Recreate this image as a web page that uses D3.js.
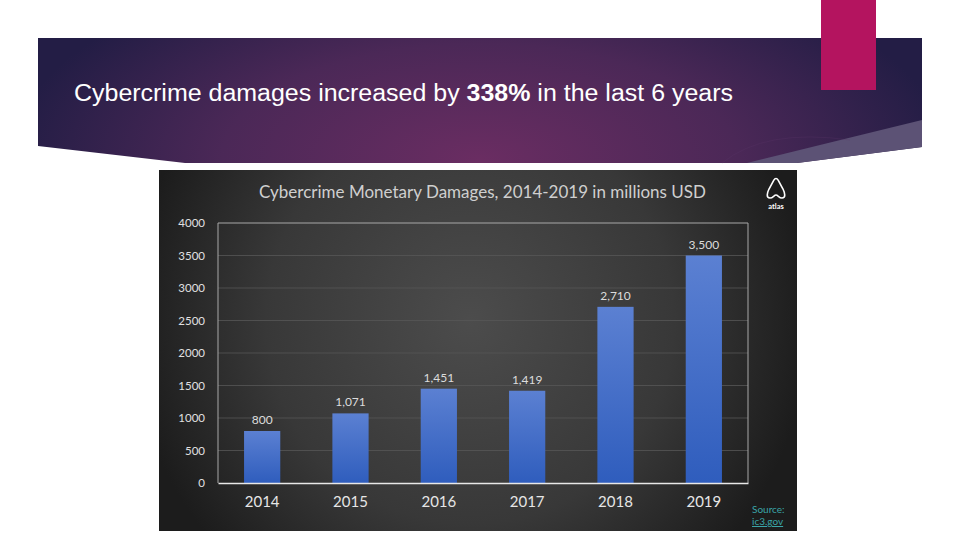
<!DOCTYPE html>
<html><head><meta charset="utf-8">
<script src="https://cdn.jsdelivr.net/npm/d3@7"></script>
<style>html,body{margin:0;padding:0;background:#fff;overflow:hidden}</style>
</head><body>
<svg id="c" width="960" height="540"></svg>
<script>
const years = ["2014","2015","2016","2017","2018","2019"];
const damages = [800, 1071, 1451, 1419, 2710, 3500];
const valueLabels = ["800","1,071","1,451","1,419","2,710","3,500"];
const yTicks = [0,500,1000,1500,2000,2500,3000,3500,4000];

const svg = d3.select("#c");
const defs = svg.append("defs");

// banner gradient
const bg = defs.append("radialGradient").attr("id","ban").attr("gradientUnits","userSpaceOnUse")
  .attr("cx",480).attr("cy",160).attr("r",470).attr("gradientTransform","translate(480,160) scale(1,0.45) translate(-480,-160)");
bg.append("stop").attr("offset","0").attr("stop-color","#6a2d62");
bg.append("stop").attr("offset","0.55").attr("stop-color","#4b2857");
bg.append("stop").attr("offset","1").attr("stop-color","#231d45");

svg.append("path").attr("d","M38,38 L922,38 L922,147 L797,163 L185,163 L38,146 Z").attr("fill","url(#ban)");
svg.append("path").attr("d","M747,163 Q840,140 922,120 L922,147 L797,163 Z").attr("fill","#5c5275");
svg.append("path").attr("d","M722,163 Q765,128 850,140").attr("fill","none").attr("stroke","#5a3566").attr("stroke-width",1).attr("opacity",0.3);
svg.append("rect").attr("x",821).attr("y",0).attr("width",55).attr("height",90).attr("fill","#b4145f");

const t = svg.append("text").attr("x",74).attr("y",101).attr("fill","#ffffff")
  .attr("font-family","Liberation Sans, Arial, sans-serif").attr("font-size",23.5)
  .attr("textLength",659).attr("lengthAdjust","spacingAndGlyphs");
t.append("tspan").text("Cybercrime damages increased by ");
t.append("tspan").attr("font-weight","bold").text("338%");
t.append("tspan").text(" in the last 6 years");

// chart image
const cg = defs.append("radialGradient").attr("id","cbg").attr("gradientUnits","userSpaceOnUse")
  .attr("cx",470).attr("cy",320).attr("r",340);
cg.append("stop").attr("offset","0").attr("stop-color","#4c4c4c");
cg.append("stop").attr("offset","0.6").attr("stop-color","#383838");
cg.append("stop").attr("offset","1").attr("stop-color","#1c1c1c");
svg.append("rect").attr("x",159).attr("y",170).attr("width",638).attr("height",361).attr("fill","url(#cbg)");

const barG = defs.append("linearGradient").attr("id","bar").attr("x1",0).attr("y1",0).attr("x2",0).attr("y2",1);
barG.append("stop").attr("offset","0").attr("stop-color","#5b80d2");
barG.append("stop").attr("offset","1").attr("stop-color","#2f5dbd");

const L = 218, R = 748, T = 223, B = 483;
const x = d3.scaleBand().domain(years).range([L,R]).paddingInner(0.59).paddingOuter(0.295);
const y = d3.scaleLinear().domain([0,4000]).range([B,T]);

const font = "Lato, 'Open Sans', sans-serif";

// gridlines
svg.append("g").selectAll("line").data(yTicks.filter(d=>d>0 && d<4000)).join("line")
  .attr("x1",L).attr("x2",R).attr("y1",d=>y(d)).attr("y2",d=>y(d))
  .attr("stroke","#575757").attr("stroke-width",0.8);
// plot border
svg.append("path").attr("d",`M${L},${B} L${L},${T} L${R},${T} L${R},${B}`).attr("fill","none")
  .attr("stroke","#a8a8a8").attr("stroke-width",1);

// y axis
const yAxis = svg.append("g").attr("transform",`translate(${L},0)`)
  .call(d3.axisLeft(y).tickValues(yTicks).tickSize(0).tickPadding(13).tickFormat(d3.format("d")));
yAxis.select(".domain").remove();
yAxis.selectAll("text").attr("fill","#e0e0e0").attr("font-family",font).attr("font-size",11.5);

// bars
svg.append("g").selectAll("rect").data(damages).join("rect")
  .attr("x",(d,i)=>x(years[i])).attr("width",x.bandwidth())
  .attr("y",d=>y(d)).attr("height",d=>B-y(d)).attr("fill","url(#bar)");

svg.append("g").selectAll("text").data(damages).join("text")
  .attr("x",(d,i)=>x(years[i])+x.bandwidth()/2).attr("y",d=>y(d)-7)
  .attr("text-anchor","middle").attr("fill","#dcdcdc").attr("font-family",font).attr("font-size",12)
  .text((d,i)=>valueLabels[i]);

// x axis
const xAxis = svg.append("g").attr("transform",`translate(0,${B})`)
  .call(d3.axisBottom(x).tickSize(0).tickPadding(13));
xAxis.select(".domain").attr("stroke","#e8e8e8").attr("stroke-width",1.5);
xAxis.selectAll("text").attr("fill","#e6e6e6").attr("font-family",font).attr("font-size",15);

// chart title
svg.append("text").attr("x",259).attr("y",198).attr("fill","#cfcfcf").attr("font-family",font)
  .attr("font-size",16.5).attr("textLength",447).attr("lengthAdjust","spacingAndGlyphs")
  .text("Cybercrime Monetary Damages, 2014-2019 in millions USD");

// atlas logo
svg.append("path").attr("d","M770,198 C766,198 767,193 769,189 L774,180 C775,178 777,178 778,180 L783,189 C785,193 786,198 782,198 C779,198 778,195 776,195 C774,195 773,198 770,198 Z")
  .attr("fill","none").attr("stroke","#ffffff").attr("stroke-width",1.6);
svg.append("text").attr("x",776).attr("y",209).attr("text-anchor","middle").attr("fill","#fff")
  .attr("font-family",font).attr("font-size",7.5).attr("font-weight","bold").text("atlas");

// source
svg.append("text").attr("x",752).attr("y",513).attr("fill","#3aa4a8").attr("font-family",font).attr("font-size",10).text("Source:");
svg.append("text").attr("x",752).attr("y",525).attr("fill","#3aa4a8").attr("font-family",font).attr("font-size",10)
  .attr("text-decoration","underline").text("ic3.gov");
</script>
</body></html>
